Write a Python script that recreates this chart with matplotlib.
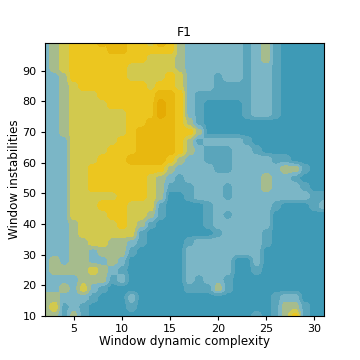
import numpy as np
import matplotlib
matplotlib.use('Agg')
import matplotlib.pyplot as plt

# F1 bands: 0 = lowest (dark teal) ... 7 = highest (deep amber)
x_vals = list(range(2, 32))
y_vals = [99, 97, 94, 91, 88, 85, 82, 79, 76, 73, 70, 67, 64, 61, 58, 55,
          52, 49, 46, 43, 40, 37, 34, 31, 28, 25, 22, 19, 16, 13, 10]
# columns grouped as x=2-16, x=17-22, x=23-26, x=27-31
rows = [
    "234555666554653 222222 1231 00000",
    "234555566555553 222222 1231 00000",
    "234555555554443 222222 1231 00000",
    "234555555444443 222222 1221 00000",
    "223555555444454 222122 1221 00000",
    "223455555554554 222111 1221 00000",
    "223444555555665 211111 1221 00000",
    "223444455555765 210000 1221 00000",
    "223444444555765 210000 1221 00000",
    "223444444556665 310000 0000 00000",
    "223444444566665 530000 0000 00000",
    "222444445566665 312222 1000 00000",
    "222444455566665 321112 2100 00000",
    "222444555666653 221112 2221 10000",
    "222445555555532 222112 2222 33100",
    "222445555554321 222222 2232 21000",
    "222445555554311 122212 2232 22100",
    "222444445554300 122212 2222 22211",
    "222444555444100 001222 2221 00012",
    "222444455443100 001212 2220 00000",
    "222344445431000 001222 2220 00000",
    "222344444410000 000122 2210 00000",
    "222334433210000 122222 2210 00000",
    "222332333100000 222222 2200 00000",
    "232332232000000 222220 0200 00000",
    "233334321000000 222220 0100 00000",
    "222233312000000 212210 0000 00000",
    "223242100000000 111310 0000 00000",
    "332221000200000 000000 0001 22000",
    "341210000100000 000000 0001 33100",
    "331310000000000 000000 0101 35100",
]
band_colors = ['#3e9ab6', '#5aa5bb', '#7bb6c6', '#a6bc8d',
               '#d2c94e', '#ecc61f', '#e8b80f', '#e5ab04']

z = np.array([[int(c) for c in r.replace(' ', '')] for r in rows], dtype=float)

# split each cell in four and soften a little, so band edges stay tight but not blocky
x_fine = np.repeat(x_vals, 4) + np.tile([-0.375, -0.125, 0.125, 0.375], len(x_vals))
y_fine = np.repeat(y_vals, 4) + np.tile([1.125, 0.375, -0.375, -1.125], len(y_vals))
z_fine = np.repeat(np.repeat(z, 4, axis=0), 4, axis=1)
padded = np.pad(z_fine, 1, mode='edge')
z_fine = sum(padded[1 + i:padded.shape[0] - 1 + i, 1 + j:padded.shape[1] - 1 + j]
             for i in (-1, 0, 1) for j in (-1, 0, 1)) / 9

fig = plt.figure(figsize=(3.6, 3.6), dpi=100)
ax = fig.add_axes([45 / 360, 1 - 316 / 360, 279 / 360, 273 / 360])
ax.contourf(x_fine, y_fine, z_fine, levels=np.arange(-0.5, 8), colors=band_colors)

ax.set_xlim(2, 31)
ax.set_ylim(10, 99)
ax.set_xticks([5, 10, 15, 20, 25, 30])
ax.set_yticks([10, 20, 30, 40, 50, 60, 70, 80, 90])
ax.tick_params(labelsize=8, length=3, width=0.8, pad=3)
ax.set_title('F1', fontsize=9, pad=5)
ax.set_xlabel('Window dynamic complexity', fontsize=8.6, labelpad=0.5)
ax.set_ylabel('Window instabilities', fontsize=8.6, labelpad=1)

fig.savefig('out.png', dpi=100)
